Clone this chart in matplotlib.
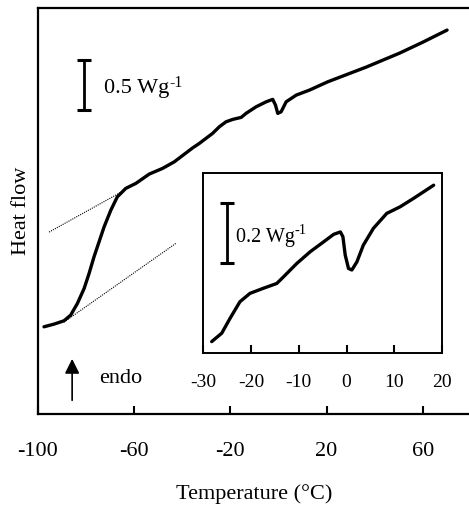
import matplotlib
matplotlib.use('Agg')
import matplotlib.pyplot as plt

plt.rcParams['font.family'] = ['Liberation Serif', 'DejaVu Serif']
plt.rcParams['axes.unicode_minus'] = False

# main DSC trace: temperature (C) vs heat flow (W/g, arbitrary offset)
temp_main = [-97.5, -93.3, -89.2, -86.4, -83.6, -80.8, -78.75, -76.7, -74.6,
             -72.5, -69.7, -67.0, -63.5, -59.3, -53.75, -48.2, -43.3, -35.8,
             -32.9, -27.4, -24.6, -21.8, -19.0, -15.5, -13.5, -9.3, -5.1,
             -2.4, -1.25, -0.3, 1.1, 3.2, 7.4, 12.9, 20.5, 36.5, 50.4, 60.1,
             70.1]
flow_main = [0.873, 0.90, 0.933, 0.99, 1.107, 1.257, 1.407, 1.573, 1.723,
             1.873, 2.04, 2.173, 2.257, 2.307, 2.40, 2.457, 2.523, 2.66,
             2.707, 2.807, 2.873, 2.923, 2.947, 2.967, 3.007, 3.073, 3.123,
             3.147, 3.09, 3.007, 3.023, 3.123, 3.19, 3.24, 3.323, 3.47, 3.61,
             3.72, 3.84]

# tangent (baseline) construction lines
tan_upper_x = [-95.4, -65.4]
tan_upper_y = [1.82, 2.22]
tan_lower_x = [-89.2, -42.5]
tan_lower_y = [0.92, 1.71]

# inset: magnified region around 0 C
temp_inset = [-28.2, -26.1, -24.35, -22.3, -20.2, -17.4, -14.6, -13.2, -10.4,
              -7.6, -4.8, -2.7, -1.3, -0.77, -0.29, 0.4, 1.1, 2.15, 3.5, 5.6,
              8.4, 11.2, 14.0, 18.2]
flow_inset = [0.038, 0.066, 0.116, 0.171, 0.199, 0.216, 0.232, 0.254, 0.299,
              0.338, 0.371, 0.396, 0.404, 0.388, 0.327, 0.282, 0.277, 0.304,
              0.36, 0.416, 0.466, 0.488, 0.516, 0.56]

main_ticks = [-100, -60, -20, 20, 60]
inset_ticks = [-30, -20, -10, 0, 10, 20]


def unit_label(ax, x, y, value, size):
    # "0.5 Wg" plus a hyphen "-1" superscript, like the original figure
    t = ax.text(x, y, value + ' Wg', fontsize=size, va='center')
    ax.figure.canvas.draw()
    bb = t.get_window_extent()
    ax.annotate('-1', xy=(bb.x1, bb.y1), xycoords='figure pixels',
                xytext=(0.3, 2.5), textcoords='offset points',
                fontsize=size * 0.72, va='top', ha='left')


fig = plt.figure(figsize=(4.69, 5.05), dpi=100)
ax = fig.add_axes([0.081, 0.180, 0.923, 0.804])

ax.plot(temp_main, flow_main, color='black', lw=2.4,
        solid_capstyle='round', solid_joinstyle='round')
ax.plot(tan_upper_x, tan_upper_y, color='black', lw=0.8, ls=(0, (1, 1)))
ax.plot(tan_lower_x, tan_lower_y, color='black', lw=0.8, ls=(0, (1, 1)))

ax.set_xlim(-100, 80)
ax.set_ylim(0, 4.06)
ax.set_xticks(main_ticks)
ax.set_yticks([])
ax.tick_params(axis='x', direction='in', length=6, width=1.5, pad=20,
               labelsize=16)
for s in ax.spines.values():
    s.set_linewidth(1.6)

ax.set_xlabel('Temperature (°C)', fontsize=16, labelpad=17)
ax.set_ylabel('Heat flow', fontsize=16)
ax.yaxis.set_label_coords(-0.015, 0.5)

# 0.5 W/g scale bar
ax.errorbar([-80.8], [3.29], yerr=[[0.25], [0.25]], fmt='none', ecolor='black',
            elinewidth=2.0, capsize=5, capthick=2.2)

# endo arrow
ax.annotate('', xy=(-85.8, 0.58), xytext=(-85.8, 0.11),
            arrowprops=dict(arrowstyle='-|>', color='black', lw=1.2,
                            mutation_scale=22))
ax.text(-74.5, 0.36, 'endo', fontsize=16, va='center')

# inset
ins = fig.add_axes([0.433, 0.301, 0.510, 0.356])
ins.plot(temp_inset, flow_inset, color='black', lw=2.4,
         solid_capstyle='round', solid_joinstyle='round')
ins.set_xlim(-30, 20)
ins.set_ylim(0, 0.6)
ins.set_xticks(inset_ticks)
ins.set_yticks([])
ins.tick_params(axis='x', direction='in', length=6, width=1.5, pad=15,
                labelsize=14)
for s in ins.spines.values():
    s.set_linewidth(1.4)

ins.errorbar([-24.9], [0.399], yerr=[[0.1], [0.1]], fmt='none', ecolor='black',
             elinewidth=2.0, capsize=5, capthick=2.2)

unit_label(ax, -72.5, 3.26, '0.5', 16)
unit_label(ins, -23.2, 0.387, '0.2', 14.5)

fig.savefig('out.png', dpi=100)
